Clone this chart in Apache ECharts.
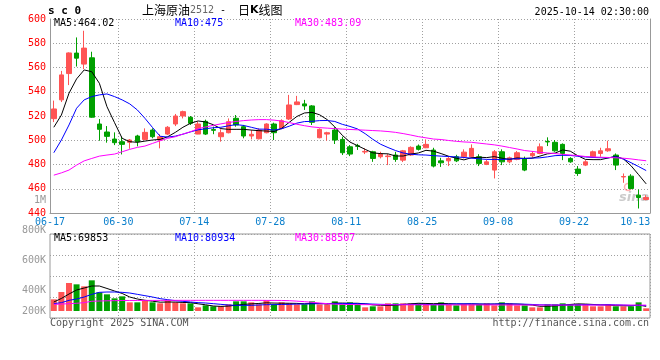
<!DOCTYPE html>
<html><head><meta charset="utf-8">
<script src="https://cdn.jsdelivr.net/npm/echarts@6/dist/echarts.min.js"></script>
<style>html,body{margin:0;padding:0;background:#fff}#c{width:660px;height:360px}</style>
</head><body><div id="c"></div>
<script>
const dates = ['06-17','06-18','06-19','06-20','06-23','06-24','06-25','06-26','06-27','06-30',
'07-01','07-02','07-03','07-04','07-07','07-08','07-09','07-10','07-11','07-14',
'07-15','07-16','07-17','07-18','07-21','07-22','07-23','07-24','07-25','07-28',
'07-29','07-30','07-31','08-01','08-04','08-05','08-06','08-07','08-08','08-11',
'08-12','08-13','08-14','08-15','08-18','08-19','08-20','08-21','08-22','08-25',
'08-26','08-27','08-28','08-29','09-01','09-02','09-03','09-04','09-05','09-08',
'09-09','09-10','09-11','09-12','09-15','09-16','09-17','09-18','09-19','09-22',
'09-23','09-24','09-25','09-26','09-29','09-30','10-09','10-10','10-13'];

// [open, close, low, high]
const candles = [
[517.8,525.8,515,532.7],[533.3,553.9,531.5,557.2],[555,572,545.5,572.5],[571.9,567.7,560.8,584.8],[562.8,576,558.6,590.3],
[568,519,518.5,573],[513.4,509,499.6,517.5],[506.8,503.2,498,511.7],[501,498,496,506.5],[498.8,496.6,488.3,503],
[498.3,500.2,493,501],[503.5,498.8,495,504.5],[500.7,506.5,500,509.8],[508.4,502.9,501.6,509.8],[500.2,502.9,493.3,505],
[505.1,510.7,504.3,511.7],[513.4,520,511.7,521.7],[520,523.6,518,524.4],[518.9,514,512.6,520],[505.1,513.4,505,515.3],
[515.6,505.1,504.3,517],[508.8,508.2,505,511.2],[502.9,506.2,498.8,509],[506.2,515.3,505.7,518],[518.1,512.6,511.2,520.8],
[511.2,503.5,501.6,512.6],[503.5,504.9,500.7,508.4],[501.2,508.4,500.7,509.8],[506.2,513.4,505.7,514],[513.4,506.2,500.2,514.5],
[509.8,516.1,509,517.3],[517.5,529.1,516.7,537.4],[529.4,531.6,529,536.6],[530,528.3,525,533.3],[528.3,514.8,512.6,529],
[502.1,509,501.6,509.8],[505.1,506.2,499.6,507],[508.4,500.2,496.9,510.7],[500.7,489.7,487.8,502.9],[494.6,488.6,486.9,496],
[495.5,495,492,497],[490.3,490.8,488.6,493.3],[490.5,485,482.2,491.3],[486.4,488.6,485,490.5],[486.5,487,479.5,488.6],
[487.8,484.2,482.2,490.5],[483.6,491.3,482,492],[487.8,494.1,487,495],[495.2,492.5,491.5,496.5],[493.8,496.6,493.5,500.7],
[491.9,478.7,477.6,493.8],[483,481.4,478,485.5],[483,485,478.7,486.4],[486.4,483,482,488],[486.4,490.2,485,492.5],
[486.4,493.3,485,496.6],[486.4,480.9,478.7,488.5],[480.1,482.2,479.5,484],[475.4,490.5,468.5,491.9],[490.5,482.2,479.5,492.5],
[482.2,485.5,481,486.5],[484.2,489.7,483.5,491.1],[485,475.4,474.5,486.5],[487.2,489.1,485.5,491.1],[489.1,494.6,488.5,497.4],
[499,498.6,495.2,502.4],[498.3,491.3,490.5,500.2],[496.6,489.1,483.6,497.4],[485,482.2,481.4,486],[476.2,472.6,470.6,478.7],
[479.5,482.2,478.7,483.6],[486.4,490.5,485.8,491.5],[489.1,491.3,486.4,493.8],[491.3,493,490.5,499.6],[487.8,479.5,475.4,489.1],
[469.7,470.1,464.9,472.6],[470.4,460.2,459.5,472],[454.7,452.8,443.7,459.4],[451.1,452.8,450.5,454.7]];

const ma5 = [510.7,520.8,538.8,550.6,558,556.5,547,527.7,514.5,501.6,
498.8,498.3,499.3,500.2,500.7,502.9,506.5,510.7,514,515.9,
515.1,512.8,509.6,509,509,509,508.4,507.9,507.6,507.2,
509.8,514.8,519.6,522.5,523,521,517,511,504,498.5,
495.5,492.5,489.6,489,488.8,487,487,488.6,489.5,491.7,
491,489,486.8,485.2,483.8,485.6,486,485.7,486.5,485.2,
484.2,485.4,485,485.2,486.9,488.8,489.4,492,491,487.2,
484.2,484,484,485.4,486.8,484.6,479,471.6,464.02];

const ma10 = [489.7,500.2,512.6,526.4,533.3,536,537.4,538.2,536,533.3,
530,525,518.1,510.5,503.3,502.6,503.4,505,506.9,508.6,
509.5,510.3,510.7,511.9,512.9,512.2,510.7,509.2,509.1,508.4,
509.5,511.6,514.1,515.4,515.6,516.2,516.3,515.5,513.1,511.4,
509.3,505.4,500.8,496.8,494,491.5,489.5,488.5,488,487.8,
487.3,486.9,486.6,486.2,485.8,485.2,484.7,484.2,484.2,484.2,
484.5,484.7,485,485.3,485.5,486.3,487.3,487.6,487.5,486.8,
486.2,485.8,485.6,485.5,486.4,484.5,481.5,478.3,475];

const ma30 = [471.2,473.1,475.4,479.5,483,485,486.9,487.8,488.6,490.5,
492.5,494.1,495.2,497.4,499.6,501.6,502.9,505.1,507,509.5,
511,512.3,513.5,514.6,515.5,516.2,516.7,517,517,516.6,
515.8,514.6,513.2,512,511,510.4,510,509.6,509.2,508.9,
508.6,508.3,508,507.7,507.2,506.5,505.5,504.3,503,502,
501,500.6,499.8,499.1,498.6,498.3,497.6,496.9,496.2,495.2,
494,492.8,491.5,490.8,490,489.5,489,488.4,487.8,487.3,
486.6,486.2,486,485.8,485.5,485.2,484.6,483.8,483.09];

// volume in thousands (K)
const volumes = [175,285,420,400,370,460,280,250,190,220,
130,130,160,130,115,160,130,115,115,55,
85,70,70,100,145,145,130,100,160,100,
130,115,100,100,145,100,100,145,100,130,
100,55,70,70,115,115,115,115,115,100,
100,130,100,85,100,100,100,115,85,130,
115,85,85,55,55,100,100,115,100,100,
100,70,70,100,70,70,70,130,40];

const volMa5 = [135,188,255,315,345,375,375,338,300,263,
210,180,161,147,132,135,134,128,126,108,
93,75,69,74,87,99,107,113,123,119,
117,116,114,108,114,113,108,119,119,116,
116,107,92,86,83,86,98,107,116,113,
110,113,110,104,104,107,104,101,104,107,
104,104,98,89,71,71,77,86,98,107,
104,98,92,89,80,80,77,89,69.853];

const volMa10 = [110,125,160,180,210,250,280,285,285,280,
270,250,230,210,185,170,155,145,135,125,
120,110,100,90,85,85,85,90,95,95,
98,100,104,105,108,110,110,111,113,113,
110,108,104,100,98,98,99,100,100,99,
98,99,102,108,108,108,105,104,105,107,
107,104,102,98,93,92,90,92,90,92,
95,93,92,95,93,89,84,84,80.934];

const volMa30 = [100,104,110,116,125,146,150,153,155,157,
158,158,159,159,159,160,160,160,160,160,
160,160,160,160,160,160,160,160,159,159,
158,155,148,140,130,120,110,102,99,97,
96,95,95,94,94,93,93,93,93,92,
92,92,92,92,91,91,91,91,91,90,
90,90,90,90,89,89,89,89,89,89,
89,89,89,88.8,88.8,88.7,88.6,88.5,88.5];

const dateLabelIdx = [0,9,19,29,39,49,59,69,78];
const splitIdx = [9,19,29,39,49,59,69];
const priceMin = 440, priceMax = 600, priceStep = 20;
const volLabelMin = 200, volLabelMax = 1000, volLabelStep = 200;
const maTexts = ['MA5:464.02','MA10:475','MA30:483.09'];
const volMaTexts = ['MA5:69853','MA10:80934','MA30:88507'];
const titleMain = '上海原油', titleCode = '2512', titleTail = ['日','K','线图'];
const symbolText = 's c 0';
const timeText = '2025-10-14 02:30:00';
const copyText = 'Copyright 2025 SINA.COM';
const urlText = 'http://finance.sina.com.cn';

const RED = '#ff5454', GREEN = '#00a000';
const MONO = '"DejaVu Sans Mono","Liberation Mono",monospace';
const CJK = '"Noto Sans CJK SC",sans-serif';
const MA_COLORS = ['#000000','#0000ff','#ff00ff'];
const GRIDC = '#a0a0a0';

const chart = echarts.init(document.getElementById('c'), null, {renderer:'canvas'});
const volData = volumes.map((v,i)=>({value:v, itemStyle:{color: candles[i][1] >= candles[i][0] ? RED : GREEN}}));
const dotted = {color: GRIDC, type:[1,2], width:1};
const labelStyle = {fontFamily: MONO, fontSize: 10, color: '#0a7fcc'};

const maTextEls = (texts, y) => texts.map((t,i)=>({
  type:'text', x:[54,175,295][i], y:y,
  style:{text:t, font:'10px '+MONO, fill:MA_COLORS[i], verticalAlign:'middle', align:'left'}, z:10
}));

const option = {
  animation:false,
  backgroundColor:'#fff',
  grid:[
    {left:50, right:10, top:19, height:194, show:false},
    {left:50, right:10, top:234, height:84, show:true, borderColor:'#999', borderWidth:1, backgroundColor:'transparent'},
    {left:50, right:10, top:200, height:120, show:false}
  ],
  xAxis:[
    {type:'category', gridIndex:0, data:dates, boundaryGap:true,
     axisLine:{show:true, lineStyle:{color:'#999'}}, axisTick:{show:false},
     axisLabel:{interval:(i)=>dateLabelIdx.includes(i), margin:4,
       formatter:(v,i)=> (i===dates.length-1 ? '{e|'+v+'}' : '{n|'+v+'}'),
       rich:{n:Object.assign({padding:[0,7.6,0,0]}, labelStyle), e:Object.assign({padding:[0,22,0,0]}, labelStyle)}},
     splitLine:{show:true, interval:(i)=>splitIdx.includes(i), lineStyle:dotted}},
    {type:'category', gridIndex:1, data:dates, boundaryGap:true,
     axisLine:{show:false}, axisTick:{show:false}, axisLabel:{show:false},
     splitLine:{show:true, interval:(i)=>splitIdx.includes(i), lineStyle:dotted}},
    {type:'category', gridIndex:2, data:dates, show:false}
  ],
  yAxis:[
    {type:'value', gridIndex:0, min:priceMin, max:priceMax, interval:priceStep,
     axisLine:{show:true, lineStyle:{color:'#999'}}, axisTick:{show:false},
     axisLabel:{color:'#ff0000', fontFamily:MONO, fontSize:10, margin:4},
     splitLine:{show:true, lineStyle:dotted}},
    {type:'value', gridIndex:0, position:'right', min:priceMin, max:priceMax, interval:priceStep,
     axisLine:{show:true, lineStyle:{color:'#999'}}, axisTick:{show:false}, axisLabel:{show:false}, splitLine:{show:false}},
    {type:'value', gridIndex:1, min:-105, max:1155,
     axisLine:{show:false}, axisTick:{show:false}, axisLabel:{show:false}, splitLine:{show:false}},
    {type:'value', gridIndex:1, position:'right', min:0, max:84, interval:21,
     axisLine:{show:false}, axisTick:{show:false}, axisLabel:{show:false}, splitLine:{show:true, lineStyle:dotted}},
    {type:'value', gridIndex:2, min:volLabelMin, max:volLabelMax, interval:volLabelStep,
     axisLine:{show:false}, axisTick:{show:false}, splitLine:{show:false},
     axisLabel:{color:'#999', fontFamily:MONO, fontSize:10, margin:4,
       formatter:(v)=> v>=1000 ? (v/1000)+'M' : (v===volLabelMin ? '{u|'+v+'K}' : v+'K'),
       rich:{u:{padding:[0,0,18,0], color:'#999', fontFamily:MONO, fontSize:10}}}}
  ],
  series:[
    {type:'candlestick', xAxisIndex:0, yAxisIndex:0, data:candles, barWidth:5,
     itemStyle:{color:RED, color0:GREEN, borderColor:RED, borderColor0:GREEN, borderWidth:1}},
    {type:'line', xAxisIndex:0, yAxisIndex:0, data:ma5, symbol:'none', lineStyle:{color:MA_COLORS[0], width:1}, z:5},
    {type:'line', xAxisIndex:0, yAxisIndex:0, data:ma10, symbol:'none', lineStyle:{color:MA_COLORS[1], width:1}, z:5},
    {type:'line', xAxisIndex:0, yAxisIndex:0, data:ma30, symbol:'none', lineStyle:{color:MA_COLORS[2], width:1}, z:5},
    {type:'bar', xAxisIndex:1, yAxisIndex:2, data:volData, barWidth:6},
    {type:'line', xAxisIndex:1, yAxisIndex:2, data:volMa5, symbol:'none', lineStyle:{color:MA_COLORS[0], width:1}, z:5},
    {type:'line', xAxisIndex:1, yAxisIndex:2, data:volMa10, symbol:'none', lineStyle:{color:MA_COLORS[1], width:1}, z:5},
    {type:'line', xAxisIndex:1, yAxisIndex:2, data:volMa30, symbol:'none', lineStyle:{color:MA_COLORS[2], width:1}, z:5}
  ],
  graphic:[
    {type:'text', x:619, y:198, z:1, style:{text:'sina', font:'italic bold 13px "DejaVu Sans",sans-serif', fill:'rgba(140,140,140,0.45)', verticalAlign:'middle'}},
    {type:'circle', shape:{cx:628, cy:187, r:3.5}, z:1, style:{fill:'none', stroke:'rgba(255,80,80,0.45)', lineWidth:1.5}},
    {type:'text', x:48, y:11, style:{text:symbolText, font:'bold 11px '+MONO, fill:'#000', verticalAlign:'middle'}},
    {type:'text', x:142, y:10, style:{text:'{a|'+titleMain+'}{b|'+titleCode+'}{c| - }',
      verticalAlign:'middle',
      rich:{a:{fontFamily:CJK, fontSize:12, fill:'#000'}, b:{fontFamily:MONO, fontSize:10, fill:'#666'}, c:{fontFamily:MONO, fontSize:10, fill:'#000'}}}},
    {type:'text', x:238, y:10, style:{text:'{a|'+titleTail[0]+'}{k|'+titleTail[1]+'}{a|'+titleTail[2]+'}',
      verticalAlign:'middle',
      rich:{a:{fontFamily:CJK, fontSize:12, fill:'#000'}, k:{fontFamily:'"DejaVu Sans",sans-serif', fontSize:11, fontWeight:'bold', fill:'#000'}}}},
    {type:'text', x:649, y:12, style:{text:timeText, font:'10px '+MONO, fill:'#000', align:'right', verticalAlign:'middle'}},
    {type:'text', x:50, y:323, style:{text:copyText, font:'10px '+MONO, fill:'#555', verticalAlign:'middle'}},
    {type:'text', x:649, y:323, style:{text:urlText, font:'10px '+MONO, fill:'#555', align:'right', verticalAlign:'middle'}}
  ].concat(maTextEls(maTexts, 23.5), maTextEls(volMaTexts, 238.5))
};
chart.setOption(option);
</script>
</body></html>
